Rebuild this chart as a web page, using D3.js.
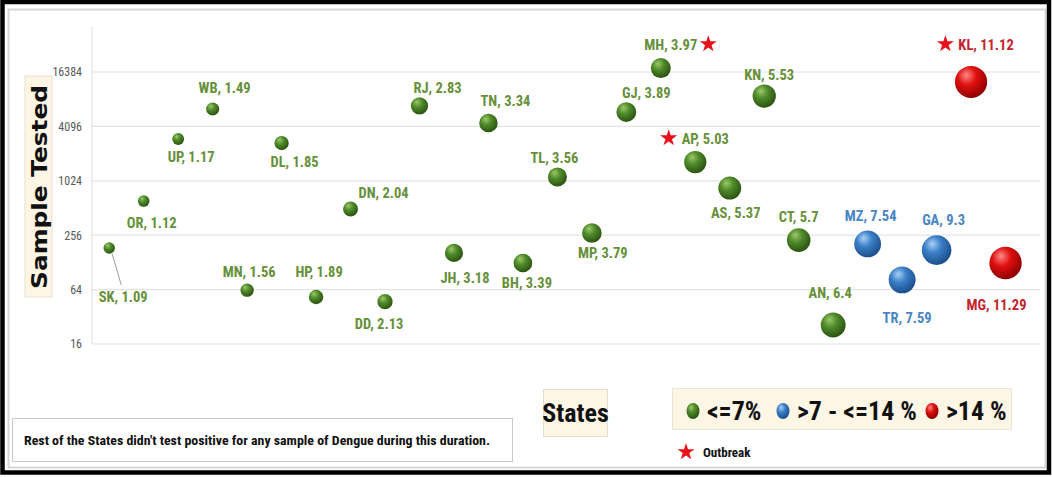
<!DOCTYPE html>
<html>
<head>
<meta charset="utf-8">
<script src="https://cdn.jsdelivr.net/npm/d3@7"></script>
<style>
  html, body { margin: 0; padding: 0; background: #fff; }
  svg { display: block; }
  .narrow { font-family: "Liberation Sans Narrow", "Arial Narrow", "Roboto Condensed", "Liberation Sans", sans-serif; }
</style>
</head>
<body>
<svg id="chart" width="1052" height="477"></svg>
<script>
// States ordered by positivity rate (%), with samples tested
const states = ["SK","OR","UP","WB","MN","DL","HP","DN","DD","RJ","JH","TN","BH","TL","MP","GJ","MH","AP","AS","KN","CT","AN","MZ","TR","GA","KL","MG"];
const positivity = [1.09,1.12,1.17,1.49,1.56,1.85,1.89,2.04,2.13,2.83,3.18,3.34,3.39,3.56,3.79,3.89,3.97,5.03,5.37,5.53,5.7,6.4,7.54,7.59,9.3,11.12,11.29];
const samples = [185,611,2970,6380,63,2680,53,500,47,6900,163,4460,126,1130,271,5900,18100,1650,852,8880,226,26,205,82,175,12700,126];
// Colour class of each state: 0 = <=7%, 1 = >7 - <=14 %, 2 = >14 %
const category = [0,0,0,0,0,0,0,0,0,0,0,0,0,0,0,0,0,0,0,0,0,0,1,1,1,2,2];
const outbreakStates = ["MH","AP","KL"];
const yTicks = [16,64,256,1024,4096,16384];
const legendLabels = ["<=7%", ">7 - <=14 %", ">14 %"];
const noteText = "Rest of the States didn't test positive for any sample of Dengue during this duration.";

// Label placement around each bubble: [dx, dy] from bubble centre to text centre
const labelOffsets = [[14,49],[8,22],[13,18],[12,-21],[2,-18],[13,19],[3,-25],[33,-16],[-6,22],[18,-18],[11,25],[17,-22],[4,20],[-3,-19],[11,20],[20,-19],[10,-23],[10,-23],[6,25],[5,-21],[0,-23],[-3,-32],[3,-28],[5,38],[7,-30],[15,-37],[-9,42]];
// Outbreak star side: -1 before the label, +1 after it
const starSide = {MH: 1, AP: -1, KL: -1};

const svg = d3.select("#chart");
const W = 1052, H = 477;

const fills = [
  {hi: "#9cc96a", mid: "#4f8a2a", lo: "#2c5412", text: "#66903a"},
  {hi: "#a9d0f5", mid: "#3a7fc6", lo: "#1d4f8c", text: "#4a85c2"},
  {hi: "#ff8a8a", mid: "#e01010", lo: "#8f0000", text: "#c2252d"}
];

// sphere-like gradients
const defs = svg.append("defs");
fills.forEach((f, i) => {
  const g = defs.append("radialGradient").attr("id", "ball" + i)
    .attr("cx", "40%").attr("cy", "35%").attr("r", "65%").attr("fx", "35%").attr("fy", "28%");
  g.append("stop").attr("offset", "0%").attr("stop-color", f.hi);
  g.append("stop").attr("offset", "45%").attr("stop-color", f.mid);
  g.append("stop").attr("offset", "100%").attr("stop-color", f.lo);
});

// frame
svg.append("rect").attr("x", 0).attr("y", 0).attr("width", W).attr("height", H).attr("fill", "#fff");
svg.append("rect").attr("x", 8.5).attr("y", 9.5).attr("width", 1037).attr("height", 458)
  .attr("fill", "none").attr("stroke", "#d6d6d6").attr("stroke-width", 2);
svg.append("rect").attr("x", 2.5).attr("y", 2).attr("width", 1046.5).attr("height", 470.5)
  .attr("fill", "none").attr("stroke", "#000").attr("stroke-width", 4.5);

// scales
const x = d3.scaleLinear().domain([0.5, 28]).range([92, 1040]);
const y = d3.scaleLog().base(2).domain([16, 16384]).range([344, 72]);
const r = d3.scaleSqrt().domain([0, 11.29]).range([1, 16.2]);

// gridlines and axis
const plotTop = 27;
svg.append("g").selectAll("line").data(yTicks).join("line")
  .attr("x1", 92).attr("x2", 1040)
  .attr("y1", d => y(d)).attr("y2", d => y(d))
  .attr("stroke", "#e3e3e3").attr("stroke-width", 1.2);
svg.append("line").attr("x1", 92).attr("x2", 92).attr("y1", plotTop).attr("y2", y(16))
  .attr("stroke", "#e3e3e3").attr("stroke-width", 1.2);

const yAxis = d3.axisLeft(y).tickValues(yTicks).tickFormat(d3.format("d")).tickSize(0).tickPadding(10);
const ag = svg.append("g").attr("transform", "translate(92,0)").call(yAxis);
ag.select(".domain").remove();
ag.selectAll("text").attr("class", "narrow").attr("font-size", 12).attr("fill", "#595959");

// y axis title
svg.append("rect").attr("x", 25).attr("y", 76).attr("width", 27).attr("height", 221)
  .attr("fill", "#fdf6e4").attr("stroke", "#e8e2d2");
svg.append("text").attr("transform", "translate(47,187) rotate(-90)")
  .attr("text-anchor", "middle").attr("font-family", "DejaVu Sans, sans-serif")
  .attr("font-weight", "bold").attr("font-size", 22).attr("fill", "#111")
  .attr("textLength", 204).attr("lengthAdjust", "spacingAndGlyphs")
  .text("Sample Tested");

// rows
const rows = states.map((s, i) => ({s, p: positivity[i], n: samples[i], c: category[i], i, off: labelOffsets[i]}));

// leader line for SK
const sk = rows[0];
svg.append("line").attr("x1", x(1) + 3).attr("y1", y(sk.n) + 6)
  .attr("x2", x(1) + sk.off[0] - 2).attr("y2", y(sk.n) + sk.off[1] - 12)
  .attr("stroke", "#9a9a9a").attr("stroke-width", 1);

// bubbles
svg.append("g").selectAll("circle").data(rows).join("circle")
  .attr("cx", d => x(d.i + 1)).attr("cy", d => y(d.n)).attr("r", d => r(d.p))
  .attr("fill", d => `url(#ball${d.c})`);

// labels
const star = d3.symbol().type(d3.symbolStar);
const lg = svg.append("g");
rows.forEach(d => {
  const cx = x(d.i + 1) + d.off[0], cy = y(d.n) + d.off[1];
  const t = lg.append("text").attr("class", "narrow")
    .attr("x", cx).attr("y", cy).attr("dy", "0.35em")
    .attr("text-anchor", "middle").attr("font-size", 14.5).attr("font-weight", "bold")
    .attr("fill", fills[d.c].text)
    .text(`${d.s}, ${d.p}`);
  if (outbreakStates.includes(d.s)) {
    const w = t.node().getComputedTextLength();
    const sx = starSide[d.s] > 0 ? cx + w / 2 + 11 : cx - w / 2 - 13;
    lg.append("path").attr("d", star.size(90)())
      .attr("transform", `translate(${sx},${cy - 1})`).attr("fill", "#e8101a");
  }
});

// note box
svg.append("rect").attr("x", 12.5).attr("y", 418.5).attr("width", 500).attr("height", 43)
  .attr("fill", "#fff").attr("stroke", "#c8c8c8");
svg.append("text").attr("class", "narrow").attr("x", 24).attr("y", 445)
  .attr("font-size", 13.5).attr("font-weight", "bold").attr("fill", "#111")
  .attr("textLength", 466).attr("lengthAdjust", "spacingAndGlyphs")
  .text(noteText);

// x axis title
svg.append("rect").attr("x", 543.5).attr("y", 389.5).attr("width", 64).attr("height", 47)
  .attr("fill", "#fdf6e4").attr("stroke", "#e3ddcc");
svg.append("text").attr("class", "narrow").attr("x", 575.5).attr("y", 422)
  .attr("text-anchor", "middle").attr("font-size", 26).attr("font-weight", "bold").attr("fill", "#111")
  .text("States");

// legend
svg.append("rect").attr("x", 672.5).attr("y", 388.5).attr("width", 339).attr("height", 41)
  .attr("fill", "#fdf6e4").attr("stroke", "#ebe5d5");
const legendPos = [693, 783, 932];
legendLabels.forEach((lab, i) => {
  svg.append("ellipse").attr("cx", legendPos[i]).attr("cy", 411).attr("rx", 6.5).attr("ry", 8)
    .attr("fill", `url(#ball${i})`);
  svg.append("text").attr("class", "narrow").attr("x", legendPos[i] + 14).attr("y", 420)
    .attr("font-size", 26).attr("font-weight", "bold").attr("fill", "#111").text(lab);
});
svg.append("path").attr("d", star.size(90)()).attr("transform", "translate(686,452)").attr("fill", "#e8101a");
svg.append("text").attr("class", "narrow").attr("x", 703).attr("y", 457)
  .attr("font-size", 13).attr("font-weight", "bold").attr("fill", "#111").text("Outbreak");
</script>
</body>
</html>
